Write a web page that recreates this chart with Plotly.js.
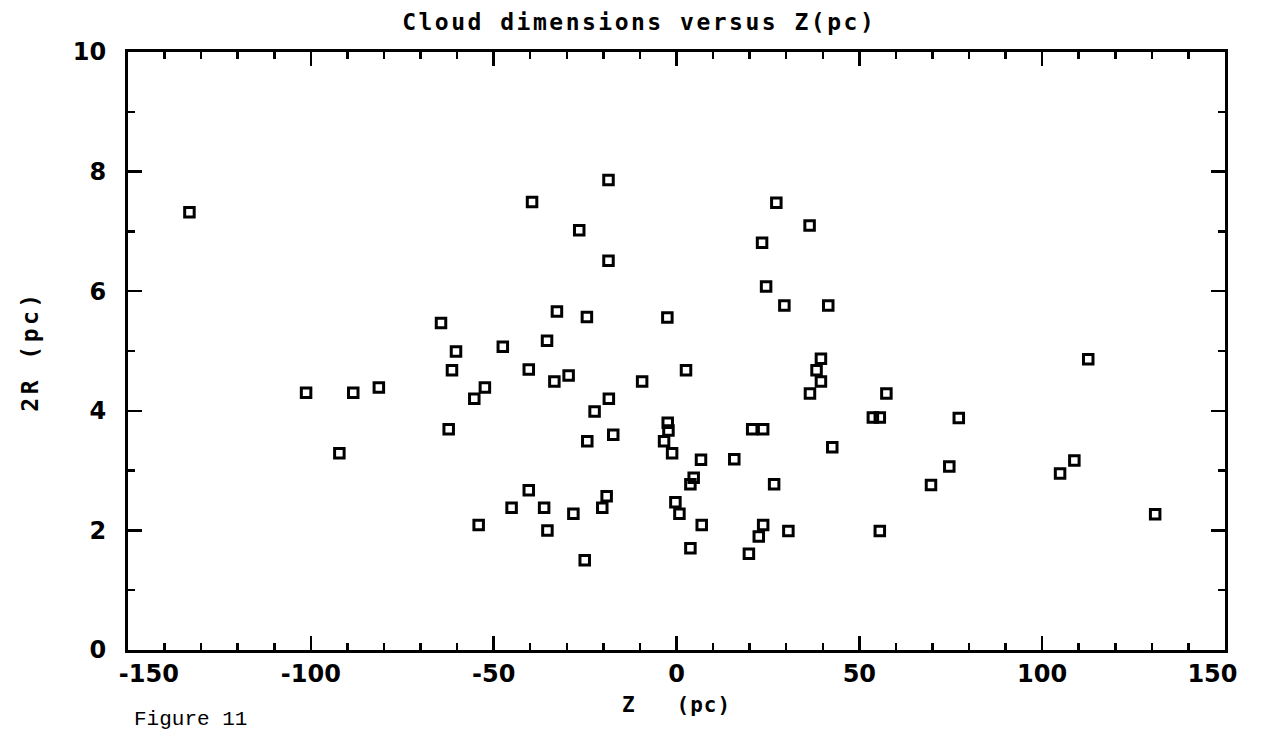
<!DOCTYPE html>
<html>
<head>
<meta charset="utf-8">
<script src="https://cdn.plot.ly/plotly-3.0.1.min.js"></script>
<style>
html,body{margin:0;padding:0;background:#fff;}
#chart{width:1269px;height:746px;}
.gtitle{letter-spacing:2.5px;}
.ytitle{letter-spacing:3.5px;}
.xtitle{letter-spacing:1px;}
</style>
</head>
<body>
<div id="chart"></div>
<script>
// Z (pc) of each cloud
const zValues = [
  -133.2, -39.5, -32.7, -64.4, -60.3, -47.5, -35.4, -61.4, -40.4, -33.4,
  -101.3, -88.4, -81.4, -52.4, -55.3, -62.3, -92.2, -40.4, -45.1, -36.2,
  -54.1, -35.3, -18.6, -26.6, -18.6, 27.3, 36.4, 23.4, 24.5, 29.5,
  41.5, -24.5, -2.5, -29.5, -9.4, 2.6, -18.5, -22.4, -24.4, -17.3,
  -2.4, -2.2, -3.4, 39.5, 38.3, 39.5, 36.5, 57.4, 20.7, 23.7,
  53.7, 55.6, -1.2, 6.7, 15.8, 42.6, 4.7, 3.8, 26.7, -19.1,
  -20.3, -28.2, -0.3, 0.8, 6.9, 3.8, -25.1, 23.7, 22.5, 19.8,
  30.6, 55.6, 77.2, 74.6, 69.6, 104.9, 108.8, 112.6, 130.9
];
// 2R (pc) of each cloud
const sizeValues = [
  7.32, 7.49, 5.66, 5.47, 4.99, 5.07, 5.17, 4.68, 4.69, 4.49,
  4.30, 4.30, 4.39, 4.39, 4.20, 3.69, 3.29, 2.67, 2.38, 2.38,
  2.09, 2.00, 7.86, 7.02, 6.51, 7.48, 7.10, 6.81, 6.08, 5.76,
  5.76, 5.57, 5.56, 4.59, 4.49, 4.68, 4.20, 3.99, 3.49, 3.60,
  3.80, 3.67, 3.49, 4.87, 4.68, 4.49, 4.29, 4.29, 3.69, 3.69,
  3.89, 3.89, 3.29, 3.18, 3.19, 3.39, 2.88, 2.77, 2.77, 2.57,
  2.38, 2.28, 2.47, 2.28, 2.09, 1.70, 1.50, 2.09, 1.90, 1.61,
  1.99, 1.99, 3.88, 3.07, 2.76, 2.95, 3.17, 4.86, 2.27
];
const xTickVals = [-150, -100, -50, 0, 50, 100, 150];
const xTickText = ['\u00a0\u00a0\u00a0\u00a0\u00a0-150', '-100', '-50', '0', '50', '100', '150\u00a0\u00a0\u00a0'];
const yTickVals = [0, 2, 4, 6, 8, 10];
const yTickText = ['0', '2', '4', '6', '8', '10'];

const tickFont = {family: 'DejaVu Sans', size: 24, color: '#000', weight: 'bold'};
const monoFont = 'DejaVu Sans Mono';

const trace = {
  x: zValues,
  y: sizeValues,
  type: 'scatter',
  mode: 'markers',
  marker: {symbol: 'square-open', size: 9.5, color: '#000', line: {width: 3, color: '#000'}},
  hoverinfo: 'x+y'
};

const axisCommon = {
  showgrid: false,
  zeroline: false,
  showline: true,
  linewidth: 3,
  linecolor: '#000',
  mirror: 'ticks',
  ticks: 'inside',
  ticklen: 14,
  tickwidth: 2.5,
  tickcolor: '#000',
  tickfont: tickFont,
  tickmode: 'array'
};

const layout = {
  width: 1269,
  height: 746,
  margin: {l: 128, r: 44, t: 52, b: 96},
  paper_bgcolor: '#fff',
  plot_bgcolor: '#fff',
  showlegend: false,
  title: {
    text: 'Cloud dimensions versus Z(pc)',
    font: {family: monoFont, size: 23, color: '#000', weight: 'bold'},
    xref: 'paper', x: 0.466, xanchor: 'center',
    yref: 'container', y: 0.97, yanchor: 'middle'
  },
  xaxis: Object.assign({}, axisCommon, {
    range: [-150, 150],
    tickvals: xTickVals,
    ticktext: xTickText,
    ticklabelstandoff: 0,
    minor: {ticks: 'inside', ticklen: 7, tickwidth: 2.5, tickcolor: '#000', dtick: 10, tick0: -150, showgrid: false},
    title: {text: 'Z   (pc)', font: {family: monoFont, size: 21, color: '#000', weight: 'bold'}, standoff: 11}
  }),
  yaxis: Object.assign({}, axisCommon, {
    range: [0, 10],
    tickvals: yTickVals,
    ticktext: yTickText,
    ticklabelstandoff: 14,
    minor: {ticks: 'inside', ticklen: 7, tickwidth: 2.5, tickcolor: '#000', dtick: 1, tick0: 0, showgrid: false},
    title: {text: '2R (pc)', font: {family: monoFont, size: 23, color: '#000', weight: 'bold'}, standoff: 28}
  }),
  annotations: [{
    text: 'Figure 11',
    xref: 'paper', yref: 'paper',
    x: 0.004, y: -0.117,
    xanchor: 'left', yanchor: 'middle',
    showarrow: false,
    font: {family: 'Liberation Mono', size: 21, color: '#000'}
  }]
};

Plotly.newPlot('chart', [trace], layout, {displayModeBar: false, staticPlot: true});
</script>
</body>
</html>
